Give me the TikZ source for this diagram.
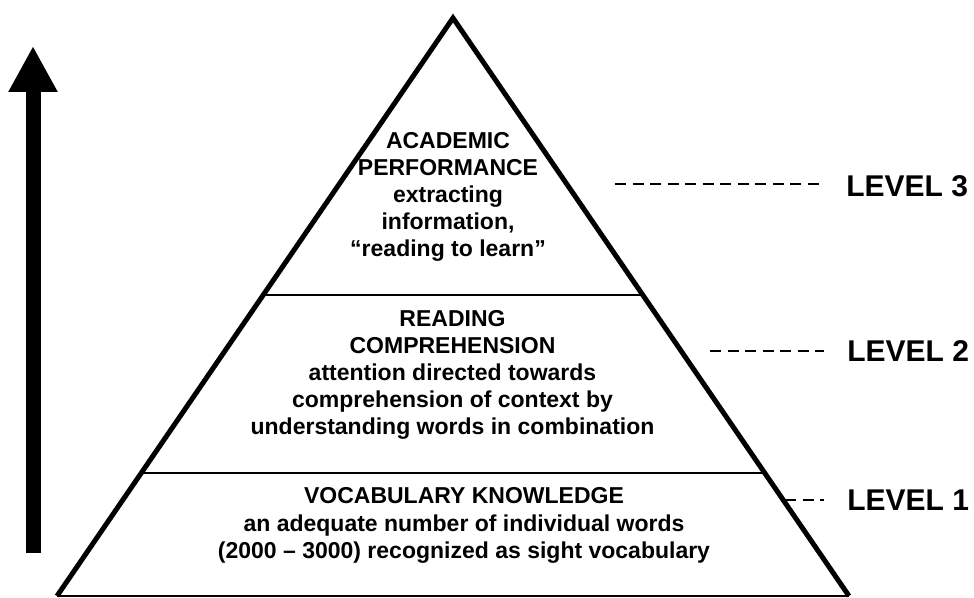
\documentclass[tikz,border=0pt]{standalone}
\usepackage{fontspec}
\setmainfont{Liberation Sans}
\usetikzlibrary{arrows.meta,calc}

\begin{document}
\begin{tikzpicture}[x=0.75pt,y=-0.75pt,
        side/.style={line width=3.75pt,line join=miter},
        divider/.style={line width=1.2pt},
        leveldash/.style={line width=1.1pt,dash pattern=on 8.25pt off 4.9pt,shorten >=17pt},
        tiertext/.style={anchor=north,align=center,inner sep=0pt,font=\bfseries\fontsize{17.25}{20.25}\selectfont},
        levellabel/.style={anchor=west,inner sep=0pt,font=\bfseries\fontsize{22.5}{27}\selectfont}]
        \useasboundingbox (0,0) rectangle (974,598);
        %% Upward arrow
        \coordinate (arrowfoot) at (33,553);
        \coordinate (arrowtip) at (33,46);
        \draw[line width=11.25pt,-{Triangle[length=34.5pt,width=34.5pt]}] (arrowfoot) -- (arrowtip);
        %% Pyramid
        \coordinate (apex) at (453,18);
        \coordinate (bl) at (57,596);
        \coordinate (br) at (849,596);
        \draw[side] (bl) -- (apex) -- (br);
        \draw[line width=1.5pt] (bl) -- (br);
        %% Dividers
        \draw[divider] ($(apex)!0.479!(bl)$) -- ($(apex)!0.479!(br)$);
        \draw[divider] ($(apex)!0.787!(bl)$) -- ($(apex)!0.787!(br)$);
        %% Tiers
        \node[tiertext] (academic) at (448,132)
            {ACADEMIC\\PERFORMANCE\\extracting\\information,\\“reading to learn”};
        \node[tiertext] (reading) at (452.5,310.5)
            {READING\\COMPREHENSION\\attention directed towards\\comprehension of context by\\understanding words in combination};
        \node[tiertext,font=\bfseries\fontsize{17.25}{20.6}\selectfont] (vocab) at (464,487.5)
            {VOCABULARY KNOWLEDGE\\an adequate number of individual words\\(2000 – 3000) recognized as sight vocabulary};
        %% Levels
        \node[levellabel] (level3) at (846,186) {LEVEL 3};
        \node[levellabel] (level2) at (847,351) {LEVEL 2};
        \node[levellabel] (level1) at (847,500) {LEVEL 1};
        \coordinate (dash3) at (615,184);
        \coordinate (dash2) at (710,351);
        \coordinate (dash1) at (785,500);
        \draw[leveldash] (dash3) -- (dash3 -| level3.west);
        \draw[leveldash] (dash2) -- (dash2 -| level2.west);
        \draw[leveldash] (dash1) -- (dash1 -| level1.west);
    \end{tikzpicture}
\end{document}
